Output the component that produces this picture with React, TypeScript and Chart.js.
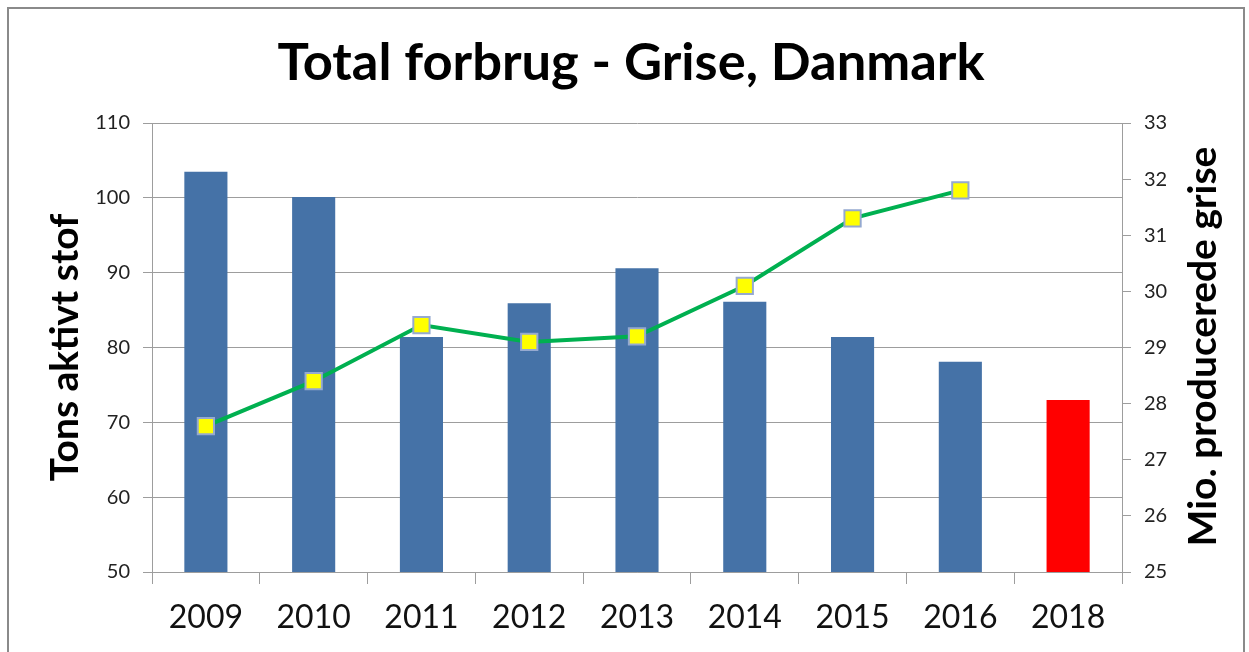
import React, { useEffect, useRef } from 'react';
import { Chart, registerables } from 'chart.js';

Chart.register(...registerables);

const categories = ['2009', '2010', '2011', '2012', '2013', '2014', '2015', '2016', '2018'];
const forbrug = [103.5, 100.1, 81.4, 85.9, 90.6, 86.1, 81.4, 78.1, 73.0];
const grise = [27.6, 28.4, 29.4, 29.1, 29.2, 30.1, 31.3, 31.8, null];
const barColors = ['#4572A7', '#4572A7', '#4572A7', '#4572A7', '#4572A7', '#4572A7', '#4572A7', '#4572A7', '#FF0000'];

const chartTitle = 'Total forbrug - Grise, Danmark';
const leftTitle = 'Tons aktivt stof';
const rightTitle = 'Mio. producerede grise';

const FONT = 'Lato, "Open Sans", "DejaVu Sans", sans-serif';
const GRID = '#9d9d9d';

const decor = {
  id: 'decor',
  afterDraw(chart: any) {
    const ctx = chart.ctx as CanvasRenderingContext2D;
    const { top, bottom } = chart.chartArea;
    const cy = (top + bottom) / 2;
    ctx.save();
    ctx.fillStyle = '#000';
    ctx.textAlign = 'center';
    ctx.textBaseline = 'alphabetic';
    ctx.font = `bold 52.5px ${FONT}`;
    ctx.fillText(chartTitle, 631, 80);

    ctx.font = `bold 39px ${FONT}`;
    ctx.textBaseline = 'middle';
    ctx.save();
    ctx.translate(65, cy);
    ctx.rotate(-Math.PI / 2);
    ctx.fillText(leftTitle, 0, 0);
    ctx.restore();
    ctx.save();
    ctx.translate(1203, cy - 1);
    ctx.rotate(-Math.PI / 2);
    ctx.fillText(rightTitle, 0, 0);
    ctx.restore();

    ctx.strokeStyle = '#8a8a8a';
    ctx.lineWidth = 2;
    ctx.strokeRect(8, 8, 1236, 680);
    ctx.restore();
  },
};

export default function App() {
  const ref = useRef<HTMLCanvasElement>(null);
  useEffect(() => {
    if (!ref.current) return;
    const chart = new Chart(ref.current, {
      type: 'bar',
      data: {
        labels: categories,
        datasets: [
          {
            type: 'line',
            label: rightTitle,
            data: grise,
            yAxisID: 'y1',
            borderColor: '#00B050',
            borderWidth: 4,
            pointStyle: 'rect',
            pointRadius: 11.5,
            pointBackgroundColor: '#FFFF00',
            pointBorderColor: '#95A9D0',
            pointBorderWidth: 2,
            tension: 0,
            order: 0,
          } as any,
          {
            type: 'bar',
            label: leftTitle,
            data: forbrug,
            yAxisID: 'y',
            backgroundColor: barColors,
            barPercentage: 0.4,
            categoryPercentage: 1,
            order: 1,
          },
        ],
      },
      options: {
        responsive: false,
        animation: false,
        layout: { padding: { top: 123, left: 0, right: 0, bottom: 0 } },
        plugins: {
          legend: { display: false },
          title: { display: false },
          tooltip: { enabled: false },
        },
        scales: {
          x: {
            offset: true,
            grid: { display: true, drawOnChartArea: false, drawTicks: true, tickLength: 12, color: GRID, offset: true },
            border: { display: true, color: GRID },
            ticks: { color: '#111', font: { family: FONT, size: 32 }, padding: 14 },
            afterFit: (s: any) => { s.height = 80; },
          },
          y: {
            position: 'left',
            min: 50,
            max: 110,
            ticks: { stepSize: 10, color: '#222', font: { family: FONT, size: 20 }, padding: 13 },
            grid: { color: GRID, tickLength: 9, drawTicks: true },
            border: { display: true, color: GRID },
            afterFit: (s: any) => { s.width = 152; },
          },
          y1: {
            position: 'right',
            min: 25,
            max: 33,
            ticks: { stepSize: 1, color: '#222', font: { family: FONT, size: 20 }, padding: 13 },
            grid: { drawOnChartArea: false, color: GRID, tickLength: 9, drawTicks: true },
            border: { display: true, color: GRID },
            afterFit: (s: any) => { s.width = 127; },
          },
        },
      },
      plugins: [decor],
    });
    return () => chart.destroy();
  }, []);
  return (
    <div style={{ position: 'fixed', left: 0, top: 0, width: 1249, height: 652, background: '#fff' }}>
      <canvas ref={ref} width={1249} height={652} style={{ display: 'block' }} />
    </div>
  );
}
